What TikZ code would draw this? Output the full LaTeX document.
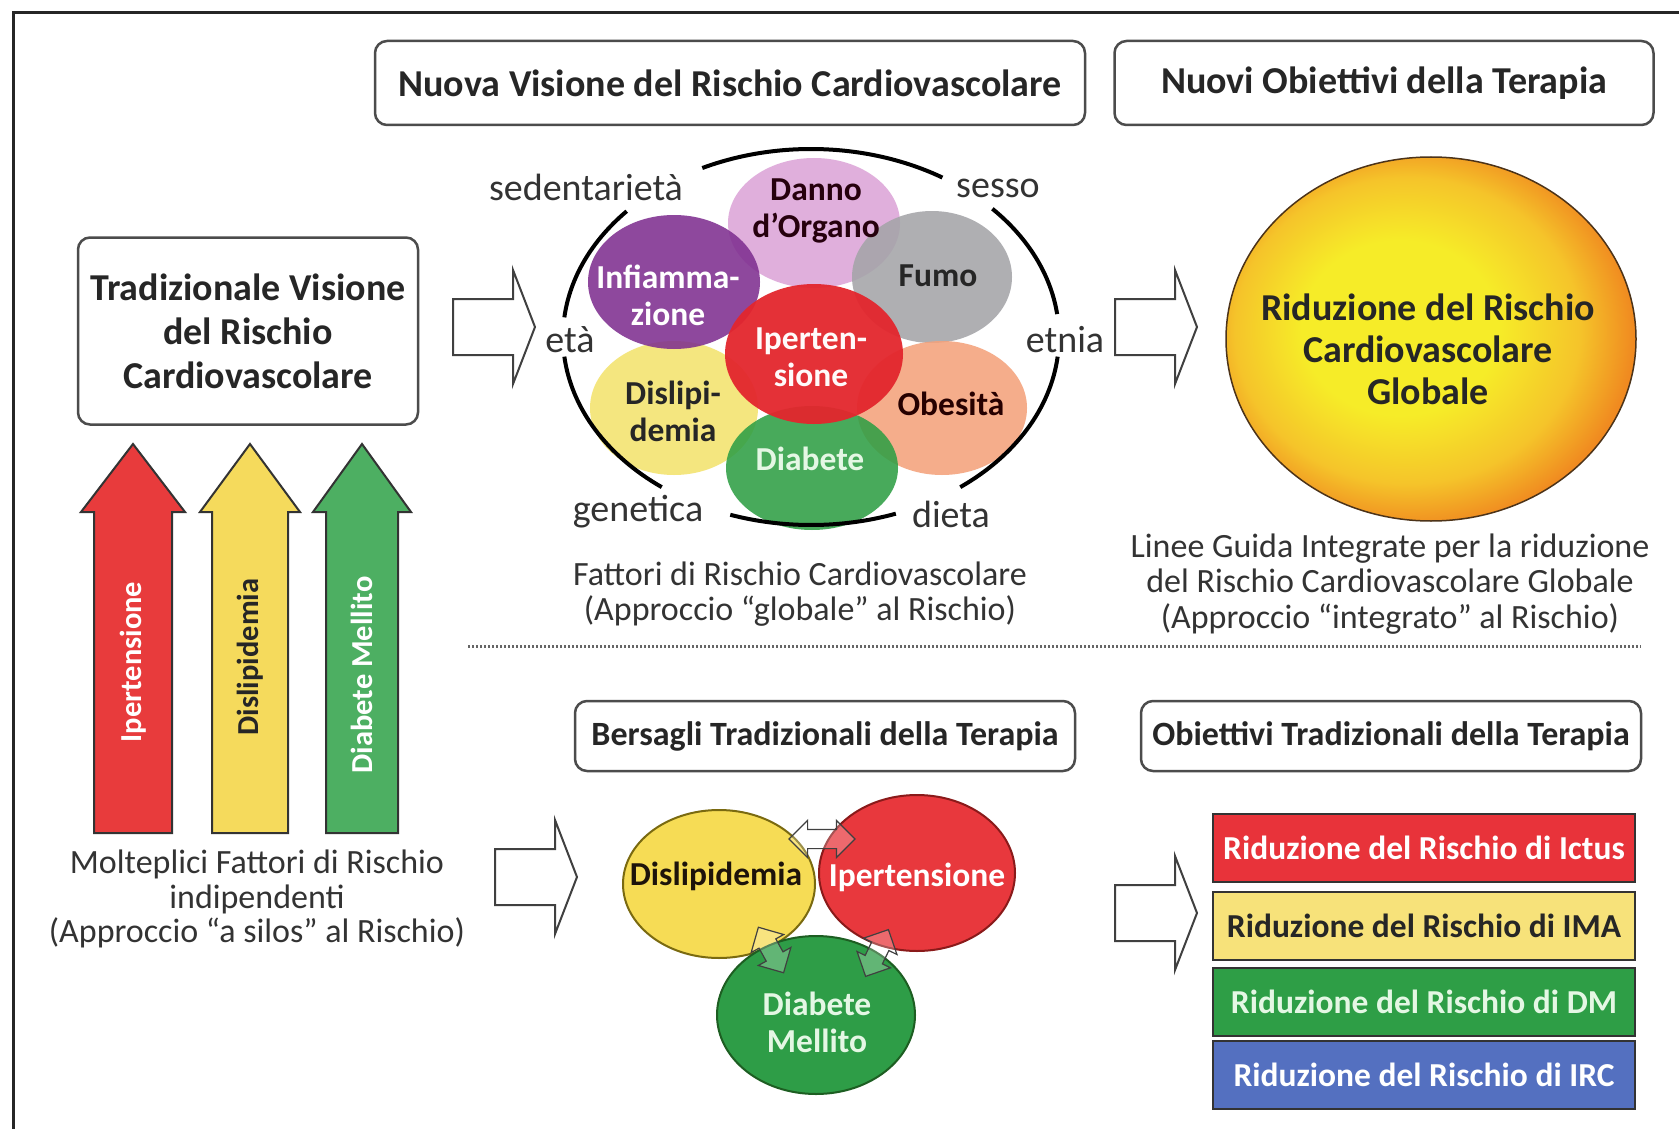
\documentclass[tikz,border=0pt]{standalone}
\usepackage{fontspec}
\setmainfont{Carlito}
\usetikzlibrary{shapes.geometric,shapes.arrows}

\definecolor{txtdark}{HTML}{262626}
\definecolor{capgray}{HTML}{333333}
\definecolor{pPink}{HTML}{DCA4D8}
\definecolor{pPurple}{HTML}{7F2F90}
\definecolor{pGrey}{HTML}{A4A4A8}
\definecolor{pRed}{HTML}{E3262D}
\definecolor{pYellow}{HTML}{F3E36E}
\definecolor{pSalmon}{HTML}{F4A27C}
\definecolor{pGreen}{HTML}{2F9F45}
\definecolor{tYellow}{HTML}{F6DC55}
\definecolor{tYellowD}{HTML}{7A6A10}
\definecolor{tRed}{HTML}{E8383D}
\definecolor{tRedD}{HTML}{8A1A1A}
\definecolor{tGreen}{HTML}{2E9D47}
\definecolor{tGreenD}{HTML}{1D5E22}
\definecolor{aRed}{HTML}{E83B3C}
\definecolor{aYellow}{HTML}{F5DA5C}
\definecolor{aGreen}{HTML}{4DAF62}
\definecolor{bRed}{HTML}{E8333A}
\definecolor{bYellow}{HTML}{F7E27A}
\definecolor{bGreen}{HTML}{2E9E46}
\definecolor{bBlue}{HTML}{5470C0}
\definecolor{sunY}{HTML}{F6EC28}
\definecolor{sunM}{HTML}{F5C42A}
\definecolor{sunO}{HTML}{F08A20}
\definecolor{sunR}{HTML}{EC6E1E}
\definecolor{lightgreentxt}{HTML}{E4F7E4}

\pgfdeclareradialshading{sunshade}{\pgfpoint{-5bp}{2bp}}{color(0bp)=(sunY); color(12bp)=(sunY); color(21bp)=(sunM); color(27bp)=(sunO); color(33bp)=(sunR); color(50bp)=(sunR)}

\begin{document}
\begin{tikzpicture}[x=1pt,y=-1pt,
  hdr/.style={draw=black!70, line width=2.5pt, rounded corners=12pt, fill=white,
    font=\bfseries\fontsize{38}{44}\selectfont, text=txtdark, align=center, inner sep=0pt},
  hdrsmall/.style={hdr, font=\bfseries\fontsize{34}{40}\selectfont},
  petal/.style={ellipse, inner sep=0pt, fill opacity=0.88, draw=none},
  ptext/.style={font=\bfseries\fontsize{33.5}{37}\selectfont, align=center, inner sep=0pt},
  ringlbl/.style={font=\fontsize{38}{42}\selectfont, text=capgray, inner sep=0pt},
  caption/.style={font=\fontsize{34}{35}\selectfont, text=capgray, align=center, inner sep=0pt},
  hollowarr/.style={draw=black!75, line width=2pt, fill=white, line join=miter},
  vertarr/.style={draw=black!80, line width=2pt, line join=miter},
  vtext/.style={rotate=90, font=\bfseries\fontsize{30.5}{34}\selectfont, inner sep=0pt},
  triad/.style={ellipse, inner sep=0pt, line width=2pt},
  ttext/.style={font=\bfseries\fontsize{33.5}{37}\selectfont, align=center, inner sep=0pt},
  riskbox/.style={draw=black!80, line width=2pt, minimum width=422pt, minimum height=68pt,
    inner sep=0pt, font=\bfseries\fontsize{33.5}{38}\selectfont},
  dblarr/.style={double arrow, draw=black!75, line width=1.2pt, fill=white, fill opacity=0.25,
    inner sep=9pt, double arrow head extend=9pt},
  ring/.style={line width=4pt, black}
]
\useasboundingbox (0,0) rectangle (1679,1129);
\fill[white] (0,0) rectangle (1679,1129);

% frame (top and left)
\draw[line width=3pt, black!85] (13,1129) -- (13,13) -- (1679,13);

% ---------- headers ----------
\node[hdr, minimum width=710pt, minimum height=84pt] (h1) at (730,83) {Nuova Visione del Rischio Cardiovascolare};
\node[hdr, minimum width=539pt, minimum height=84pt] (h2) at (1384,83) {Nuovi Obiettivi della Terapia};
\node[hdr, minimum width=340pt, minimum height=187pt] (trad) at (248,331) {Tradizionale Visione\\del Rischio\\Cardiovascolare};
\node[hdrsmall, minimum width=500pt, minimum height=70pt] (h3) at (825,736) {Bersagli Tradizionali della Terapia};
\node[hdrsmall, minimum width=500pt, minimum height=70pt] (h4) at (1391,736) {Obiettivi Tradizionali della Terapia};

% ---------- hollow arrows ----------
\coordinate (ar1) at (453,327);
\coordinate (ar2) at (1115,327);
\coordinate (ar3) at (495,877);
\coordinate (ar4) at (1115,913);
\foreach \c in {ar1,ar2,ar3,ar4}{
  \draw[hollowarr] (\c) ++(0,-28) -- ++(60,0) -- ++(0,-29) -- ++(22,57) -- ++(-22,57) -- ++(0,-29) -- ++(-60,0) -- cycle;
}

% ---------- flower ----------
\node[petal, fill=pPink, minimum width=172pt, minimum height=130pt] (danno) at (814,223) {};
\node[petal, fill=pGrey, minimum width=160pt, minimum height=132pt] (fumo) at (932,277) {};
\node[petal, fill=pSalmon, minimum width=170pt, minimum height=134pt] (obes) at (942,408) {};
\node[petal, fill=pYellow, minimum width=168pt, minimum height=134pt] (disl) at (674,408) {};
\node[petal, fill=pGreen, minimum width=172pt, minimum height=124pt] (diab) at (812,468) {};
\node[petal, fill=pPurple, minimum width=172pt, minimum height=134pt] (infl) at (674,282) {};
\node[petal, fill=pRed, fill opacity=0.95, minimum width=178pt, minimum height=140pt] (iper) at (814,354) {};

\node[ptext, text=black!80!purple] at (816,211) {Danno\\d’Organo};
\node[ptext, text=white] at (668,295) {Infiamma-\\zione};
\node[ptext, text=txtdark] at (938,276) {Fumo};
\node[ptext, text=white!92!pink] at (811,357) {Iperten-\\sione};
\node[ptext, text=txtdark] at (673,411) {Dislipi-\\demia};
\node[ptext, text=black!85!red] at (951,404) {Obesità};
\node[ptext, text=lightgreentxt] at (810,459) {Diabete};

% ring arcs
\coordinate (rc) at (811,337);
\draw[ring] (rc) ++(-58:248 and 188) arc[start angle=-58, end angle=-116, x radius=248, y radius=188];
\draw[ring] (rc) ++(-138:248 and 188) arc[start angle=-138, end angle=-174, x radius=248, y radius=188];
\draw[ring] (rc) ++(-186:248 and 188) arc[start angle=-186, end angle=-233, x radius=248, y radius=188];
\draw[ring] (rc) ++(-251:248 and 188) arc[start angle=-251, end angle=-290, x radius=248, y radius=188];
\draw[ring] (rc) ++(-307:248 and 188) arc[start angle=-307, end angle=-354, x radius=248, y radius=188];
\draw[ring] (rc) ++(-7:248 and 188) arc[start angle=-7, end angle=-43, x radius=248, y radius=188];

\node[ringlbl] (l1) at (586,187) {sedentarietà};
\node[ringlbl] (l2) at (998,188) {sesso};
\node[ringlbl] (l3) at (570,340) {età};
\node[ringlbl] (l4) at (1065,340) {etnia};
\node[ringlbl] (l5) at (638,512) {genetica};
\node[ringlbl] (l6) at (951,514) {dieta};

\node[caption] (cap1) at (800,594) {Fattori di Rischio Cardiovascolare\\(Approccio “globale” al Rischio)};

% ---------- global risk circle ----------
\node[ellipse, minimum width=410pt, minimum height=364pt, inner sep=0pt, shading=sunshade,
      draw=black!60!brown, line width=1.5pt] (sun) at (1431,339) {};
\node[font=\bfseries\fontsize{38}{42}\selectfont, text=txtdark, align=center, inner sep=0pt] at (1428,349)
  {Riduzione del Rischio\\Cardiovascolare\\Globale};
\node[caption, font=\fontsize{34}{35.5}\selectfont] (cap2) at (1390,584)
  {Linee Guida Integrate per la riduzione\\del Rischio Cardiovascolare Globale\\(Approccio “integrato” al Rischio)};

% dotted separator
\draw[line width=3pt, black!60, dash pattern=on 2pt off 2pt] (468,646) -- (1641,646);

% ---------- left vertical arrows ----------
\coordinate (vr) at (133,833);
\coordinate (vy) at (250,833);
\coordinate (vg) at (362,833);
\draw[vertarr, fill=aRed] (vr) ++(-39,0) -- ++(0,-321) -- ++(-13,0) -- ++(52,-68) -- ++(52,68) -- ++(-13,0) -- ++(0,321) -- cycle;
\draw[vertarr, fill=aYellow] (vy) ++(-38,0) -- ++(0,-321) -- ++(-12,0) -- ++(50,-68) -- ++(50,68) -- ++(-12,0) -- ++(0,321) -- cycle;
\draw[vertarr, fill=aGreen] (vg) ++(-36,0) -- ++(0,-321) -- ++(-13,0) -- ++(49,-68) -- ++(49,68) -- ++(-13,0) -- ++(0,321) -- cycle;
\node[vtext, text=white] at (133,662) {Ipertensione};
\node[vtext, text=txtdark] at (250,657) {Dislipidemia};
\node[vtext, text=white] at (362,675) {Diabete Mellito};

\node[caption, font=\fontsize{34}{34.5}\selectfont] (cap3) at (257,899)
  {Molteplici Fattori di Rischio\\indipendenti\\(Approccio “a silos” al Rischio)};

% ---------- triad ----------
\node[triad, fill=tYellow, draw=tYellowD, minimum width=192pt, minimum height=148pt] (ty) at (719,884) {};
\node[triad, fill=tRed, draw=tRedD, minimum width=196pt, minimum height=156pt] (tr) at (917,873) {};
\node[triad, fill=tGreen, draw=tGreenD, minimum width=198pt, minimum height=158pt] (tg) at (816,1015) {};
\node[ttext, text=black!85!brown] at (716,876) {Dislipidemia};
\node[ttext, text=white] at (917,877) {Ipertensione};
\node[ttext, text=lightgreentxt] at (817,1022) {Diabete\\Mellito};

\node[dblarr, minimum height=66pt] (d1) at (822,839) {};
\node[dblarr, minimum height=52pt, rotate=-61] (d2) at (771,950) {};
\node[dblarr, minimum height=52pt, rotate=64] (d3) at (877,953) {};

% ---------- risk boxes ----------
\node[riskbox, fill=bRed, text=white] (rb1) at (1424,848) {Riduzione del Rischio di Ictus};
\node[riskbox, fill=bYellow, text=txtdark] (rb2) at (1424,926) {Riduzione del Rischio di IMA};
\node[riskbox, fill=bGreen, text=lightgreentxt] (rb3) at (1424,1002) {Riduzione del Rischio di DM};
\node[riskbox, fill=bBlue, text=white] (rb4) at (1424,1075) {Riduzione del Rischio di IRC};

\end{tikzpicture}
\end{document}
